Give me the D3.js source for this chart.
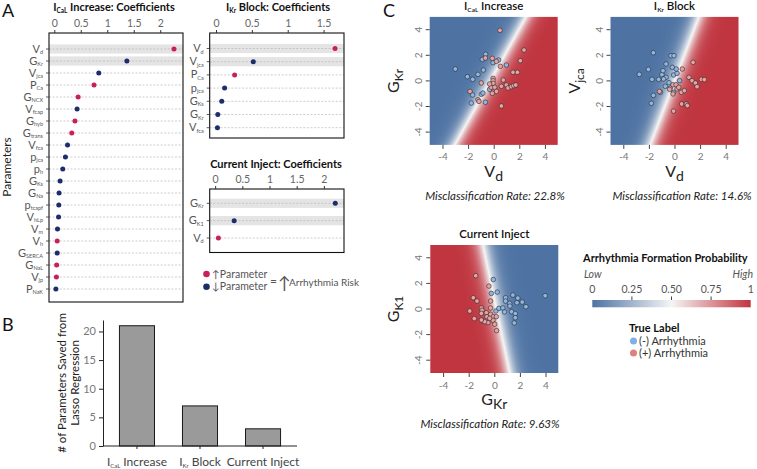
<!DOCTYPE html>
<html>
<head>
<meta charset="utf-8">
<script src="https://cdn.jsdelivr.net/npm/d3@7"></script>
<style>
  body { margin: 0; background: #fff; }
  svg { display: block; font-family: Lato, "Open Sans", sans-serif; }
  text { white-space: pre; }
</style>
</head>
<body>
<svg id="fig" width="757" height="469"></svg>
<script>

//
// DATA
//

// A: lasso coefficients ("+" = parameter up raises risk, "-" = parameter down raises risk)
const calLabels = ["V_{d}","G_{Kr}","V_{jca}","P_{Ca}","G_{NCX}","V_{fcap}","G_{hyb}","G_{trans}","V_{fca}","p_{jca}","p_{h}","G_{Ks}","G_{Na}","p_{tcapf}","V_{hLp}","V_{m}","V_{h}","G_{SERCA}","G_{NaL}","V_{jp}","P_{NaK}"];
const calCoef   = [2.26,1.37,0.84,0.75,0.45,0.43,0.39,0.33,0.25,0.21,0.16,0.11,0.09,0.085,0.08,0.06,0.055,0.055,0.045,0.04,0.03];
const calDir    = ["+","-","-","+","+","-","+","+","-","-","-","-","-","-","-","-","+","-","+","+","-"];

const krLabels = ["V_{d}","V_{jca}","P_{Ca}","p_{jca}","G_{Ks}","G_{Kr}","V_{fca}"];
const krCoef   = [1.66,0.52,0.26,0.12,0.08,0.025,0.02];
const krDir    = ["+","-","+","-","-","-","-"];

const ciLabels = ["G_{Kr}","G_{K1}","V_{d}"];
const ciCoef   = [2.21,0.35,0.06];
const ciDir    = ["-","-","+"];

const coefTicks = [0,0.5,1,1.5,2];

// B: number of parameters kept
const bCategories = ["I_{CaL} Increase","I_{Kr} Block","Current Inject"];
const bCounts     = [21,7,3];
const bTicks      = [0,5,10,15,20];

// C: logistic models [intercept, x coef, y coef] and samples [x, y]
const calModel = [0.65, 2.5, -1.39];
const krModel  = [0.0, 2.5, -0.95];
const ciModel  = [0.4, -2.5, -0.52];

const calNeg = [[-3.0,0.93],[-2.06,0.33],[-1.64,0.12],[-1.23,0.51],[-0.81,0.85],[-0.63,2.08],[-0.89,1.68],
  [-0.05,1.42],[0.39,1.63],[0.99,1.24],[-1.65,-1.1],[-1.75,-1.73],[-0.97,-1.05],[-0.84,-0.95],[-0.65,-1.67],
  [-0.32,-0.66],[-0.18,-0.24]];
const calPos = [[0.49,3.95],[2.37,2.41],[2.08,1.58],[1.51,0.67],[1.85,0.67],[-0.65,1.79],[-0.11,1.76],[0.21,1.53],
  [0.52,1.14],[-0.97,-0.16],[-0.05,0.2],[-0.05,0.02],[-0.05,-0.19],[-0.19,-0.5],[0.08,-0.5],[0.75,0.07],
  [0.99,-0.32],[1.12,-0.55],[1.38,-0.45],[1.56,-0.37],[1.72,-0.32],[0.6,-0.42],[0.21,-0.82],[-0.11,-0.97],
  [-1.23,-1.47],[-1.15,-1.6],[0.6,-1.96],[-1.85,-0.82],[-0.32,-0.24]];

const krNeg = [[-1.65,2.2],[-0.27,1.97],[-0.04,1.97],[-2.75,0.51],[-2.04,0.9],[-1.76,0.12],[-1.24,0.12],
  [-0.98,0.49],[-0.9,0.8],[-0.66,1.32],[-0.66,0.28],[-0.85,0.15],[-0.17,1.06],[-0.07,0.46],[0.2,0.59],
  [0.4,0.02],[-0.43,-0.14],[-0.72,-0.42],[-0.33,-0.55],[-1.65,-1.13],[-1.81,-1.75],[-1.1,-0.89],
  [-0.07,-0.89],[0.14,0.93]];
const krPos = [[1.45,1.45],[0.61,0.93],[1.13,0.28],[1.37,0.02],[1.63,-0.16],[1.76,-0.45],[2.1,0.12],[2.33,0.1],
  [-0.12,-0.3],[0.12,-0.3],[0.2,-0.63],[0.53,-0.89],[0.77,-0.76],[-1.18,-0.82],[-0.38,-0.66],[-0.12,-1.02],
  [0.56,-1.8],[0.92,-1.8],[1.0,-1.93],[-0.07,-2.36],[0.33,-0.5]];

const ciNeg = [[-0.08,2.3],[0.23,1.32],[-0.23,1.22],[0.13,-0.16],[0.36,0.05],[0.67,0.08],[0.8,-0.23],[0.88,0.88],
  [1.2,0.44],[1.45,1.09],[1.84,0.85],[1.77,0.49],[2.18,0.54],[2.47,0.18],[3.97,1.04],[1.35,-0.21],[1.64,-0.36],
  [1.64,-0.68],[1.56,-1.09],[1.22,0.23],[0.88,0.62]];
const ciPos = [[-1.45,2.6],[-0.42,1.79],[-1.64,0.88],[-1.35,0.62],[-1.92,-0.16],[-1.56,-0.75],[-1.01,0.08],
  [-0.96,-0.1],[-1.01,-0.34],[-0.62,-0.29],[-0.57,-0.6],[-0.29,0.62],[-0.29,0.08],[-0.29,-0.42],[-0.88,-0.94],
  [-0.49,-1.06],[-0.75,-0.99],[-0.08,-0.6],[-0.1,-0.88],[0.03,-1.19],[0.18,-1.69],[0.16,-0.6],[-0.36,-0.73],
  [-1.01,-0.86]];

const probTicks = [0,0.25,0.5,0.75,1];
const probTickLabels = ["0","0.25","0.50","0.75","1"];

//
// HELPERS
//

const svg = d3.select("#fig");
const defs = svg.append("defs");

const probColor = d3.scaleLinear()
    .domain([0, 0.5, 1])
    .range(["#4e73a3", "#f5f5f5", "#c0353f"]);

// writes "I_{CaL} Increase" style strings as tspans
function richText(sel, str, size, subSize, shift) {
    const re = /_\{([^}]*)\}|([^_]+)/g;
    let m, lowered = false;
    while ((m = re.exec(str)) !== null) {
        if (m[1] !== undefined) {
            sel.append("tspan").attr("font-size", subSize).attr("dy", shift).text(m[1]);
            lowered = true;
        } else {
            const t = sel.append("tspan").attr("font-size", size).text(m[2]);
            if (lowered) { t.attr("dy", -shift); lowered = false; }
        }
    }
    return sel;
}

function panelLetter(txt, x, y) {
    svg.append("text")
        .attr("x", x).attr("y", y)
        .attr("font-size", 18)
        .attr("fill", "#111")
        .text(txt);
}

//
// A: COEFFICIENT PLOTS
//

function drawCoef(o) {

    const x = d3.scaleLinear().domain(o.domain).range([o.left, o.right]);
    const y = d3.scalePoint().domain(o.labels).range([o.firstRow, o.lastRow]);
    const g = svg.append("g");

    g.selectAll("rect.band")
        .data(o.labels.slice(0, 2))
        .enter().append("rect")
            .attr("x", o.left)
            .attr("y", d => y(d) - 4.6)
            .attr("width", o.right - o.left)
            .attr("height", 9.2)
            .attr("fill", "#e4e4e4");

    g.selectAll("line.row")
        .data(o.labels)
        .enter().append("line")
            .attr("x1", o.left).attr("x2", o.right)
            .attr("y1", d => y(d)).attr("y2", d => y(d))
            .attr("stroke", "#b8b8b8")
            .attr("stroke-width", 0.7)
            .attr("stroke-dasharray", "2,1.6");

    g.selectAll("circle")
        .data(o.labels)
        .enter().append("circle")
            .attr("cx", (d, i) => x(o.values[i]))
            .attr("cy", d => y(d))
            .attr("r", 2.5)
            .attr("fill", (d, i) => o.dirs[i] === "+" ? "#c8215a" : "#1d2d6b");

    g.append("rect")
        .attr("x", o.left).attr("y", o.top)
        .attr("width", o.right - o.left)
        .attr("height", o.bottom - o.top)
        .attr("fill", "none")
        .attr("stroke", "#111")
        .attr("stroke-width", 1.1);

    const ax = g.append("g")
        .attr("transform", `translate(0, ${o.top})`)
        .call(d3.axisTop(x).tickValues(coefTicks.filter(t => t <= o.domain[1])).tickSize(3).tickFormat(d => String(d)));
    ax.select(".domain").remove();
    ax.selectAll("line").attr("stroke", "#333");
    ax.selectAll("text")
        .attr("fill", "#666")
        .attr("font-size", 10.5)
        .attr("font-family", "Lato, sans-serif");

    g.selectAll("line.ytick")
        .data(o.labels)
        .enter().append("line")
            .attr("x1", o.left - 3).attr("x2", o.left)
            .attr("y1", d => y(d)).attr("y2", d => y(d))
            .attr("stroke", "#333")
            .attr("stroke-width", 0.8);

    g.selectAll("text.rowlab")
        .data(o.labels)
        .enter().append("text")
            .attr("x", o.left - 6)
            .attr("y", d => y(d) + 3.5)
            .attr("text-anchor", "end")
            .attr("fill", "#555")
            .each(function (d) { richText(d3.select(this), d, 11, 5.5, 1.5); });

    richText(svg.append("text")
        .attr("x", o.titleX).attr("y", o.titleY)
        .attr("text-anchor", "middle")
        .attr("font-weight", 700)
        .attr("fill", "#111"), o.title, 11, 6.5, 2);
}

panelLetter("A", 2, 17);

drawCoef({
    labels: calLabels, values: calCoef, dirs: calDir,
    domain: [-0.1, 2.43], left: 49, right: 183, top: 33, bottom: 302,
    firstRow: 49, lastRow: 289,
    title: "I_{CaL} Increase: Coefficients", titleX: 114, titleY: 11
});

drawCoef({
    labels: krLabels, values: krCoef, dirs: krDir,
    domain: [-0.088, 1.785], left: 209.7, right: 344, top: 33, bottom: 138,
    firstRow: 48.5, lastRow: 127.7,
    title: "I_{Kr} Block: Coefficients", titleX: 278, titleY: 11
});

drawCoef({
    labels: ciLabels, values: ciCoef, dirs: ciDir,
    domain: [-0.1, 2.37], left: 209.7, right: 344, top: 189, bottom: 252.5,
    firstRow: 203.3, lastRow: 238,
    title: "Current Inject: Coefficients", titleX: 276, titleY: 168
});

svg.append("text")
    .attr("transform", "translate(10.5, 167) rotate(-90)")
    .attr("text-anchor", "middle")
    .attr("font-size", 12)
    .attr("fill", "#222")
    .text("Parameters");

// direction legend
const legA = svg.append("g");
legA.selectAll("circle")
    .data(["+", "-"])
    .enter().append("circle")
        .attr("cx", 206.5)
        .attr("cy", (d, i) => 274 + i * 12.7)
        .attr("r", 3.3)
        .attr("fill", d => d === "+" ? "#c8215a" : "#1d2d6b");
legA.selectAll("text.item")
    .data(["\u2191Parameter", "\u2193Parameter"])
    .enter().append("text")
        .attr("x", 212)
        .attr("y", (d, i) => 277.5 + i * 12.7)
        .attr("font-size", 10.5)
        .attr("fill", "#555")
        .text(d => d);
legA.append("text").attr("x", 270).attr("y", 285).attr("font-size", 12).attr("fill", "#555").text("=");
legA.append("text").attr("x", 278).attr("y", 289).attr("font-size", 17).attr("fill", "#555").text("\u2191");
legA.append("text").attr("x", 289).attr("y", 286).attr("font-size", 10).attr("fill", "#555").text("Arrhythmia Risk");

//
// B: BAR CHART
//

panelLetter("B", 2, 331);

const xB = d3.scaleBand().domain(bCategories).range([104, 296]).paddingInner(0.444).paddingOuter(0.245);
const yB = d3.scaleLinear().domain([0, 22]).range([446, 320]);

svg.append("g")
    .selectAll("rect")
    .data(bCategories)
    .enter().append("rect")
        .attr("x", d => xB(d))
        .attr("y", (d, i) => yB(bCounts[i]))
        .attr("width", xB.bandwidth())
        .attr("height", (d, i) => yB(0) - yB(bCounts[i]))
        .attr("fill", "#9a9a9a")
        .attr("stroke", "#1a1a1a")
        .attr("stroke-width", 1);

const yAxB = svg.append("g")
    .attr("transform", "translate(103, 0)")
    .call(d3.axisLeft(yB).tickValues(bTicks).tickSize(4).tickSizeOuter(0));
yAxB.select(".domain").attr("stroke", "#222");
yAxB.selectAll("line").attr("stroke", "#222");
yAxB.selectAll("text").attr("fill", "#777").attr("font-size", 11).attr("font-family", "Lato, sans-serif");

const xAxB = svg.append("g")
    .attr("transform", "translate(0, 446)")
    .call(d3.axisBottom(xB).tickSize(3).tickSizeOuter(0).tickFormat(""));
xAxB.select(".domain").attr("d", "M103,0H297").attr("stroke", "#222");
xAxB.selectAll("line").attr("stroke", "#222");

svg.append("g").selectAll("text")
    .data(bCategories)
    .enter().append("text")
        .attr("x", d => xB(d) + xB.bandwidth() / 2)
        .attr("y", 466)
        .attr("text-anchor", "middle")
        .attr("fill", "#444")
        .each(function (d) { richText(d3.select(this), d, 12, 6, 2); });

svg.append("text")
    .attr("transform", "translate(65.5, 383) rotate(-90)")
    .attr("text-anchor", "middle")
    .attr("font-size", 11.5)
    .attr("fill", "#222")
    .text("# of Parameters Saved from");
svg.append("text")
    .attr("transform", "translate(79, 383) rotate(-90)")
    .attr("text-anchor", "middle")
    .attr("font-size", 11.5)
    .attr("fill", "#222")
    .text("Lasso Regression");

//
// C: DECISION SURFACES
//

panelLetter("C", 383, 17);

function drawScatter(o) {

    const size = 128;
    const x = d3.scaleLinear().domain([-5, 5]).range([o.left, o.left + size]);
    const y = d3.scaleLinear().domain([-5, 5]).range([o.top + size, o.top]);

    const [w0, w1, w2] = o.model;
    const n = Math.hypot(w1, w2);
    const gx = w1 / n, gy = w2 / n;
    const cx = -w0 * w1 / (n * n), cy = -w0 * w2 / (n * n);
    const L = 9;

    const grad = defs.append("linearGradient")
        .attr("id", o.id + "_bg")
        .attr("gradientUnits", "userSpaceOnUse")
        .attr("x1", x(cx - L * gx)).attr("y1", y(cy - L * gy))
        .attr("x2", x(cx + L * gx)).attr("y2", y(cy + L * gy));
    grad.selectAll("stop")
        .data(d3.range(0, 81))
        .enter().append("stop")
            .attr("offset", i => i / 80)
            .attr("stop-color", i => probColor(1 / (1 + Math.exp(-n * (-L + 2 * L * i / 80)))));

    const g = svg.append("g");

    g.append("rect")
        .attr("x", o.left).attr("y", o.top)
        .attr("width", size).attr("height", size)
        .attr("fill", `url(#${o.id}_bg)`);

    const pts = o.neg.map(d => ({ p: d, c: "#8fb7e6" })).concat(o.pos.map(d => ({ p: d, c: "#e8a2a2" })));
    g.selectAll("circle")
        .data(pts)
        .enter().append("circle")
            .attr("cx", d => x(d.p[0]))
            .attr("cy", d => y(d.p[1]))
            .attr("r", 2.3)
            .attr("fill", d => d.c)
            .attr("stroke", "#2a2a2a")
            .attr("stroke-width", 0.6);

    const ticks = [-4, -2, 0, 2, 4];

    const xa = g.append("g")
        .attr("transform", `translate(0, ${o.top + size})`)
        .call(d3.axisBottom(x).tickValues(ticks).tickSize(4).tickFormat(d => String(d)));
    xa.select(".domain").remove();
    xa.selectAll("line").attr("stroke", "#444");
    xa.selectAll("text").attr("fill", "#777").attr("font-size", 10).attr("font-family", "Lato, sans-serif").attr("dy", "0.85em");

    g.selectAll("line.yt")
        .data(ticks)
        .enter().append("line")
            .attr("x1", o.left - 4).attr("x2", o.left)
            .attr("y1", d => y(d)).attr("y2", d => y(d))
            .attr("stroke", "#444");
    g.selectAll("text.yl")
        .data(ticks)
        .enter().append("text")
            .attr("transform", d => `translate(${o.left - 8}, ${y(d)}) rotate(-90)`)
            .attr("text-anchor", "middle")
            .attr("fill", "#777")
            .attr("font-size", 10)
            .text(d => String(d));

    richText(g.append("text")
        .attr("x", o.left + size / 2).attr("y", o.top - 7)
        .attr("text-anchor", "middle")
        .attr("font-weight", 600)
        .attr("fill", "#111"), o.title, 11.5, 6.5, 2);

    richText(g.append("text")
        .attr("x", o.left + size / 2).attr("y", o.top + size + 32)
        .attr("text-anchor", "middle")
        .attr("fill", "#222"), o.xTitle, 16, 14, 4);

    richText(g.append("text")
        .attr("transform", `translate(${o.left - 31}, ${o.top + size / 2}) rotate(-90)`)
        .attr("text-anchor", "middle")
        .attr("fill", "#222"), o.yTitle, 16, 12, 4);

    g.append("text")
        .attr("x", o.rateX).attr("y", o.top + size + 55)
        .attr("text-anchor", "middle")
        .attr("font-style", "italic")
        .attr("font-size", 11.5)
        .attr("fill", "#222")
        .text(o.rate);
}

drawScatter({ id: "cal", left: 429.7, top: 16.9, model: calModel, neg: calNeg, pos: calPos,
    title: "I_{CaL} Increase", xTitle: "V_{d}", yTitle: "G_{Kr}",
    rate: "Misclassification Rate: 22.8%", rateX: 495 });

drawScatter({ id: "kr", left: 610.5, top: 16.9, model: krModel, neg: krNeg, pos: krPos,
    title: "I_{Kr} Block", xTitle: "V_{d}", yTitle: "V_{jca}",
    rate: "Misclassification Rate: 14.6%", rateX: 682 });

drawScatter({ id: "ci", left: 430.3, top: 245, model: ciModel, neg: ciNeg, pos: ciPos,
    title: "Current Inject", xTitle: "G_{Kr}", yTitle: "G_{K1}",
    rate: "Misclassification Rate: 9.63%", rateX: 490 });

//
// C: LEGENDS
//

const xProb = d3.scaleLinear().domain([0, 1]).range([592.3, 750.7]);

const barGrad = defs.append("linearGradient")
    .attr("id", "probbar")
    .attr("x1", "0%").attr("x2", "100%").attr("y1", "0%").attr("y2", "0%");
barGrad.selectAll("stop")
    .data(d3.range(0, 21))
    .enter().append("stop")
        .attr("offset", i => i / 20)
        .attr("stop-color", i => probColor(i / 20));

const leg = svg.append("g");

leg.append("text")
    .attr("x", 583).attr("y", 262)
    .attr("font-size", 11)
    .attr("font-weight", 700)
    .attr("fill", "#111")
    .text("Arrhythmia Formation Probability");

leg.append("text").attr("x", 584).attr("y", 278).attr("font-size", 10.5).attr("font-style", "italic").attr("fill", "#555").text("Low");
leg.append("text").attr("x", 753).attr("y", 278).attr("font-size", 10.5).attr("font-style", "italic").attr("fill", "#555").attr("text-anchor", "end").text("High");

leg.selectAll("text.pt")
    .data(probTicks)
    .enter().append("text")
        .attr("x", d => xProb(d))
        .attr("y", 293)
        .attr("text-anchor", "middle")
        .attr("font-size", 10.5)
        .attr("fill", "#555")
        .text((d, i) => probTickLabels[i]);

leg.append("rect")
    .attr("x", xProb(0)).attr("y", 300)
    .attr("width", xProb(1) - xProb(0)).attr("height", 7.3)
    .attr("fill", "url(#probbar)");

leg.selectAll("line")
    .data(probTicks.slice(1, 4))
    .enter().append("line")
        .attr("x1", d => xProb(d)).attr("x2", d => xProb(d))
        .attr("y1", 296.5).attr("y2", 300)
        .attr("stroke", "#444");

leg.append("text")
    .attr("x", 629).attr("y", 332)
    .attr("font-size", 11)
    .attr("font-weight", 700)
    .attr("fill", "#111")
    .text("True Label");

leg.selectAll("circle")
    .data(["#7fb0e8", "#de8080"])
    .enter().append("circle")
        .attr("cx", 633.5)
        .attr("cy", (d, i) => 341 + i * 12)
        .attr("r", 3.5)
        .attr("fill", d => d);

leg.selectAll("text.tl")
    .data(["(-) Arrhythmia", "(+) Arrhythmia"])
    .enter().append("text")
        .attr("x", 639)
        .attr("y", (d, i) => 345 + i * 12)
        .attr("font-size", 11)
        .attr("fill", "#333")
        .text(d => d);

</script>
</body>
</html>
